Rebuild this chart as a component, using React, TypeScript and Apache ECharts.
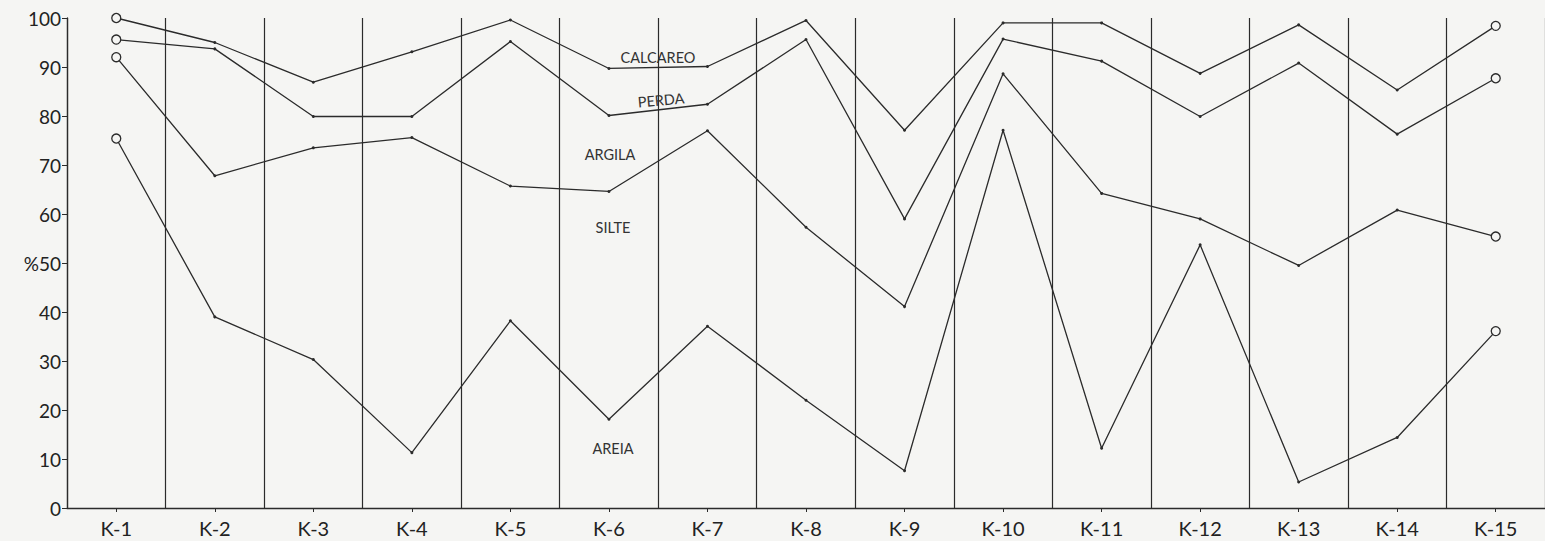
import React, { useEffect, useRef } from "react";
import * as echarts from "echarts";

const categories = ["K-1", "K-2", "K-3", "K-4", "K-5", "K-6", "K-7", "K-8", "K-9", "K-10", "K-11", "K-12", "K-13", "K-14", "K-15"];

// cumulative boundary lines (%)
const calcareoLine = [100, 95, 86.9, 93.1, 99.6, 89.7, 90.1, 99.5, 77.1, 99.0, 99.0, 88.7, 98.6, 85.3, 98.4];
const perdaLine = [95.6, 93.7, 79.9, 79.9, 95.2, 80.1, 82.4, 95.6, 59.0, 95.7, 91.2, 79.9, 90.8, 76.3, 87.7];
const argilaLine = [92.0, 67.8, 73.5, 75.6, 65.7, 64.6, 77.0, 57.3, 41.1, 88.6, 64.2, 59.0, 49.5, 60.8, 55.4];
const silteLine = [75.4, 39.0, 30.3, 11.3, 38.2, 18.1, 37.1, 22.0, 7.6, 77.1, 12.2, 53.7, 5.3, 14.4, 36.1];

const yTicks = [0, 10, 20, 30, 40, 50, 60, 70, 80, 90, 100];
const bandLabels = ["CALCAREO", "PERDA", "ARGILA", "SILTE", "AREIA"];

const INK = "#2b2b2b";
const PAPER = "#f5f5f3";

function makeSeries(name: string, values: number[]) {
  const last = values.length - 1;
  return {
    name,
    type: "line",
    data: values.map((v, i) => {
      const end = i === 0 || i === last;
      return {
        value: v,
        symbol: "circle",
        symbolSize: end ? 9 : 3,
        itemStyle: end
          ? { color: PAPER, borderColor: INK, borderWidth: 1.3 }
          : { color: INK, borderWidth: 0 },
      };
    }),
    lineStyle: { color: INK, width: 1.3 },
    showSymbol: true,
    z: 3,
  };
}

export default function App() {
  const ref = useRef<HTMLDivElement>(null);
  useEffect(() => {
    if (!ref.current) return;
    const chart = echarts.init(ref.current, null, { renderer: "svg" });
    const labelFont = { fontFamily: "Lato", fontSize: 14.5, fill: "#333" };
    chart.setOption({
      animation: false,
      backgroundColor: PAPER,
      grid: { left: 67, top: 18, width: 1482, height: 490, containLabel: false },
      xAxis: {
        type: "category",
        data: categories,
        boundaryGap: true,
        axisLine: { show: true, lineStyle: { color: INK, width: 1.3 } },
        axisTick: { show: true, alignWithLabel: true, length: 4, lineStyle: { color: INK } },
        axisLabel: { color: "#222", fontFamily: "Lato", fontSize: 20, margin: 10 },
        splitLine: { show: true, lineStyle: { color: INK, width: 1.2 } },
      },
      yAxis: {
        type: "value",
        min: 0,
        max: 100,
        interval: 10,
        axisLine: { show: true, lineStyle: { color: INK, width: 1.3 } },
        axisTick: { show: true, length: 5, lineStyle: { color: INK } },
        axisLabel: {
          color: "#222",
          fontFamily: "Lato",
          fontSize: 19,
          margin: 6,
          formatter: (v: number) => (v === 50 ? "%50" : String(v)),
        },
        splitLine: { show: false },
      },
      series: [
        makeSeries("CALCAREO", calcareoLine),
        makeSeries("PERDA", perdaLine),
        makeSeries("ARGILA", argilaLine),
        makeSeries("SILTE", silteLine),
      ],
      graphic: [
        { type: "text", x: 658, y: 57, style: { text: bandLabels[0], ...labelFont, align: "center", verticalAlign: "middle" } },
        { type: "text", x: 661, y: 100, rotation: 0.09, style: { text: bandLabels[1], ...labelFont, align: "center", verticalAlign: "middle" } },
        { type: "text", x: 610, y: 154, style: { text: bandLabels[2], ...labelFont, align: "center", verticalAlign: "middle" } },
        { type: "text", x: 613, y: 227, style: { text: bandLabels[3], ...labelFont, align: "center", verticalAlign: "middle" } },
        { type: "text", x: 613, y: 448, style: { text: bandLabels[4], ...labelFont, align: "center", verticalAlign: "middle" } },
      ],
    });
    return () => chart.dispose();
  }, []);
  return (
    <div
      ref={ref}
      style={{ position: "fixed", left: 0, top: 0, width: 1545, height: 541 }}
    />
  );
}
